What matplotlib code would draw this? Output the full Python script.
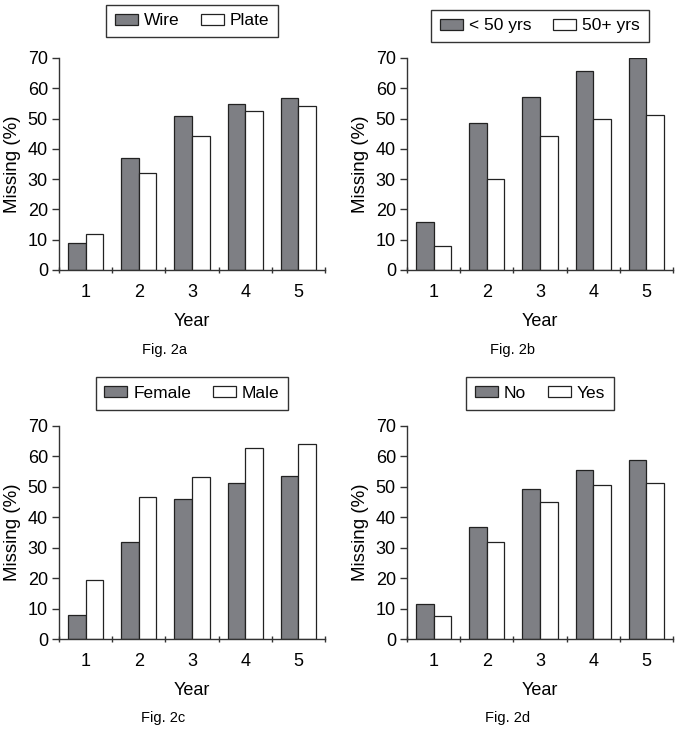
import numpy as np
import matplotlib
matplotlib.use('Agg')
import matplotlib.pyplot as plt

plt.rcParams['font.family'] = ['Liberation Sans', 'DejaVu Sans']

years = [1, 2, 3, 4, 5]

# Fig. 2a
wire = [8.9, 36.9, 51.0, 54.9, 56.8]
plate = [11.8, 32.0, 44.2, 52.5, 54.3]
# Fig. 2b
young = [15.9, 48.4, 57.1, 65.7, 69.9]
old = [8.0, 30.2, 44.2, 49.8, 51.3]
# Fig. 2c
female = [7.9, 31.9, 46.1, 51.2, 53.7]
male = [19.4, 46.7, 53.1, 62.9, 64.1]
# Fig. 2d
no = [11.6, 36.8, 49.2, 55.5, 58.7]
yes = [7.7, 31.8, 45.1, 50.6, 51.2]

panels = [
    (wire, plate, 'Wire', 'Plate', 'Fig. 2a'),
    (young, old, '< 50 yrs', '50+ yrs', 'Fig. 2b'),
    (female, male, 'Female', 'Male', 'Fig. 2c'),
    (no, yes, 'No', 'Yes', 'Fig. 2d'),
]

W, H = 678, 730
fig = plt.figure(figsize=(W / 100, H / 100), dpi=100)

# axes boxes in pixels: left, top(70), right, bottom(0)
boxes = [(59, 58, 325, 270), (407, 58, 673, 270),
         (59, 426, 325, 639), (407, 426, 673, 639)]
leg_y = [1.175, 1.152, 1.153, 1.153]
fig_lbl = [(165, 350), (513, 350), (163, 718), (508, 718)]

dark = '#7e7f84'
edge = '#222222'
bw = 0.33

for i, (s1, s2, n1, n2, lbl) in enumerate(panels):
    l, t, r, b = boxes[i]
    ax = fig.add_axes([l / W, 1 - b / H, (r - l) / W, (b - t) / H])
    x = np.arange(len(years))
    ax.bar(x - bw / 2, s1, bw, color=dark, edgecolor=edge, linewidth=0.9, label=n1)
    ax.bar(x + bw / 2, s2, bw, color='white', edgecolor=edge, linewidth=0.9, label=n2)
    ax.set_xlim(-0.5, 4.5)
    ax.set_ylim(0, 70)
    ax.set_yticks(range(0, 71, 10))
    ax.set_xticks(np.arange(-0.5, 5, 1))
    ax.set_xticklabels([])
    ax.set_xticks(x, minor=True)
    ax.set_xticklabels([str(y) for y in years], minor=True)
    ax.tick_params(axis='x', which='minor', length=0, pad=10, labelsize=13)
    ax.tick_params(axis='x', which='major', length=5, direction='inout', width=1, color='#333333')
    ax.tick_params(axis='y', length=5, width=1, color='#333333', labelsize=13, pad=3)
    for sp in ['top', 'right']:
        ax.spines[sp].set_visible(False)
    for sp in ['left', 'bottom']:
        ax.spines[sp].set_color('#333333')
        ax.spines[sp].set_linewidth(1)
    ax.set_xlabel('Year', fontsize=13, labelpad=9)
    ax.set_ylabel('Missing (%)', fontsize=13.5, labelpad=5)
    leg = ax.legend(loc='center', bbox_to_anchor=(0.5, leg_y[i]), ncol=2,
                    frameon=True, fancybox=False, edgecolor='black',
                    fontsize=12.5, handlelength=1.32, handleheight=0.6,
                    handletextpad=0.35, columnspacing=1.25, borderpad=0.5)
    leg.get_frame().set_linewidth(1)
    fx, fy = fig_lbl[i]
    fig.text(fx / W, 1 - fy / H, lbl, ha='center', va='center', fontsize=10.5)

fig.savefig('out.png', dpi=100)
